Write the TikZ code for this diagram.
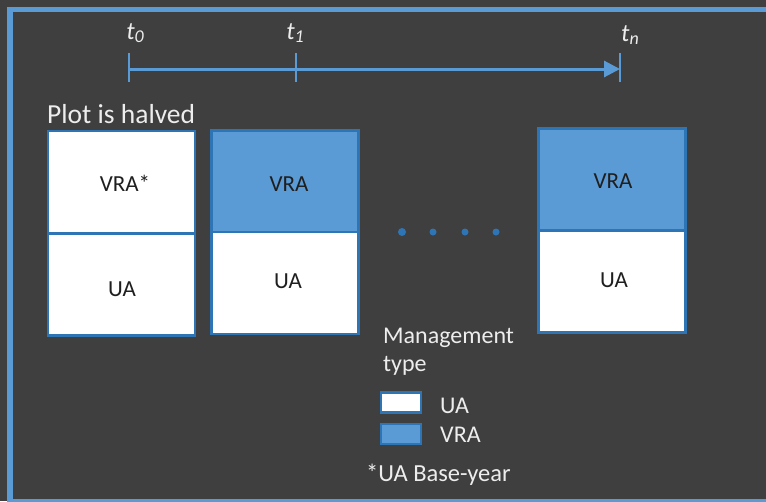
\documentclass[tikz,border=0pt]{standalone}
\usepackage{fontspec}
\setmainfont{Carlito}
\usetikzlibrary{arrows.meta}
\definecolor{bg}{HTML}{3F3F3F}
\definecolor{lblue}{HTML}{5B9BD5}
\definecolor{dblue}{HTML}{2E75B6}
\definecolor{boxtext}{HTML}{1F1F1F}
\definecolor{lighttext}{HTML}{EDEDED}
\newcommand{\tlabel}[1]{\itshape t\raisebox{-0.3ex}{\fontsize{18}{18}\selectfont\itshape #1}}
\tikzset{
  half/.style={draw=dblue, line width=2.6pt, minimum width=147pt, minimum height=102pt, inner sep=0pt},
  uahalf/.style={half, fill=white},
  vrahalf/.style={half, fill=lblue},
  boxlabel/.style={text=boxtext, font=\fontsize{23}{23}\selectfont, inner sep=0pt},
  lighttxt/.style={text=lighttext, font=\fontsize{24}{28}\selectfont, inner sep=0pt, anchor=west},
  tlab/.style={text=lighttext, font=\fontsize{25}{25}\selectfont, inner sep=0pt},
  tick/.style={draw=lblue, line width=2pt},
  dotmark/.style={circle, fill=dblue, minimum size=7pt, inner sep=0pt},
  legbox/.style={draw=dblue, line width=2.4pt, minimum width=40pt, minimum height=20pt, inner sep=0pt}
}
\begin{document}
\begin{tikzpicture}[x=1pt,y=-1pt]
\useasboundingbox (0,0) rectangle (766,501);
\clip (0,0) rectangle (766,501);
\fill[bg] (0,0) rectangle (766,501);
\draw[lblue, line width=5.5pt] (10,9.5) rectangle (780,502);

% timeline
\coordinate (a0) at (129,69);
\coordinate (a1) at (296,69);
\coordinate (an) at (620,69);
\draw[tick] (129,53) -- (129,82);
\draw[tick] (296,53) -- (296,82);
\draw[tick] (620,53) -- (620,82);
\draw[lblue, line width=3pt, -{Triangle[length=16pt,width=16pt]}] (a0) -- (an);
\node[tlab] (t0) at (135,33) {\tlabel{0}};
\node[tlab] (t1) at (295,33) {\tlabel{1}};
\node[tlab] (tn) at (630,35) {\tlabel{n}};

% header
\node[lighttxt, font=\fontsize{27.5}{28}\selectfont] (plot) at (47,114) {Plot is halved};

% box 1
\node[uahalf] (b1t) at (121.5,182) {};
\node[uahalf] (b1b) at (121.5,284.5) {};
\node[boxlabel] at (125,183) {VRA*};
\node[boxlabel] at (122,289) {UA};
% box 2
\node[vrahalf] (b2t) at (285,181.5) {};
\node[uahalf] (b2b) at (285,283) {};
\node[boxlabel] at (289,184) {VRA};
\node[boxlabel] at (288,281) {UA};
% box 3
\node[vrahalf] (b3t) at (612,179.5) {};
\node[uahalf] (b3b) at (612,281.5) {};
\node[boxlabel] at (613,181) {VRA};
\node[boxlabel] at (614,280) {UA};

% dots
\node[dotmark, minimum size=8pt] (d1) at (402,232) {};
\node[dotmark] (d2) at (433,232) {};
\node[dotmark] (d3) at (465,232) {};
\node[dotmark] (d4) at (496,232) {};

% legend
\node[lighttxt] (mg) at (383,338) {Management};
\node[lighttxt] (ty) at (383,366) {type};
\node[legbox, fill=white] (lua) at (401,402.5) {};
\node[legbox, fill=lblue] (lvra) at (401,434) {};
\node[lighttxt] (lual) at (440,406) {UA};
\node[lighttxt] (lvral) at (440,435) {VRA};
\node[lighttxt, font=\fontsize{24.5}{28}\selectfont] (base) at (366,475) {*UA Base-year};
\end{tikzpicture}
\end{document}
